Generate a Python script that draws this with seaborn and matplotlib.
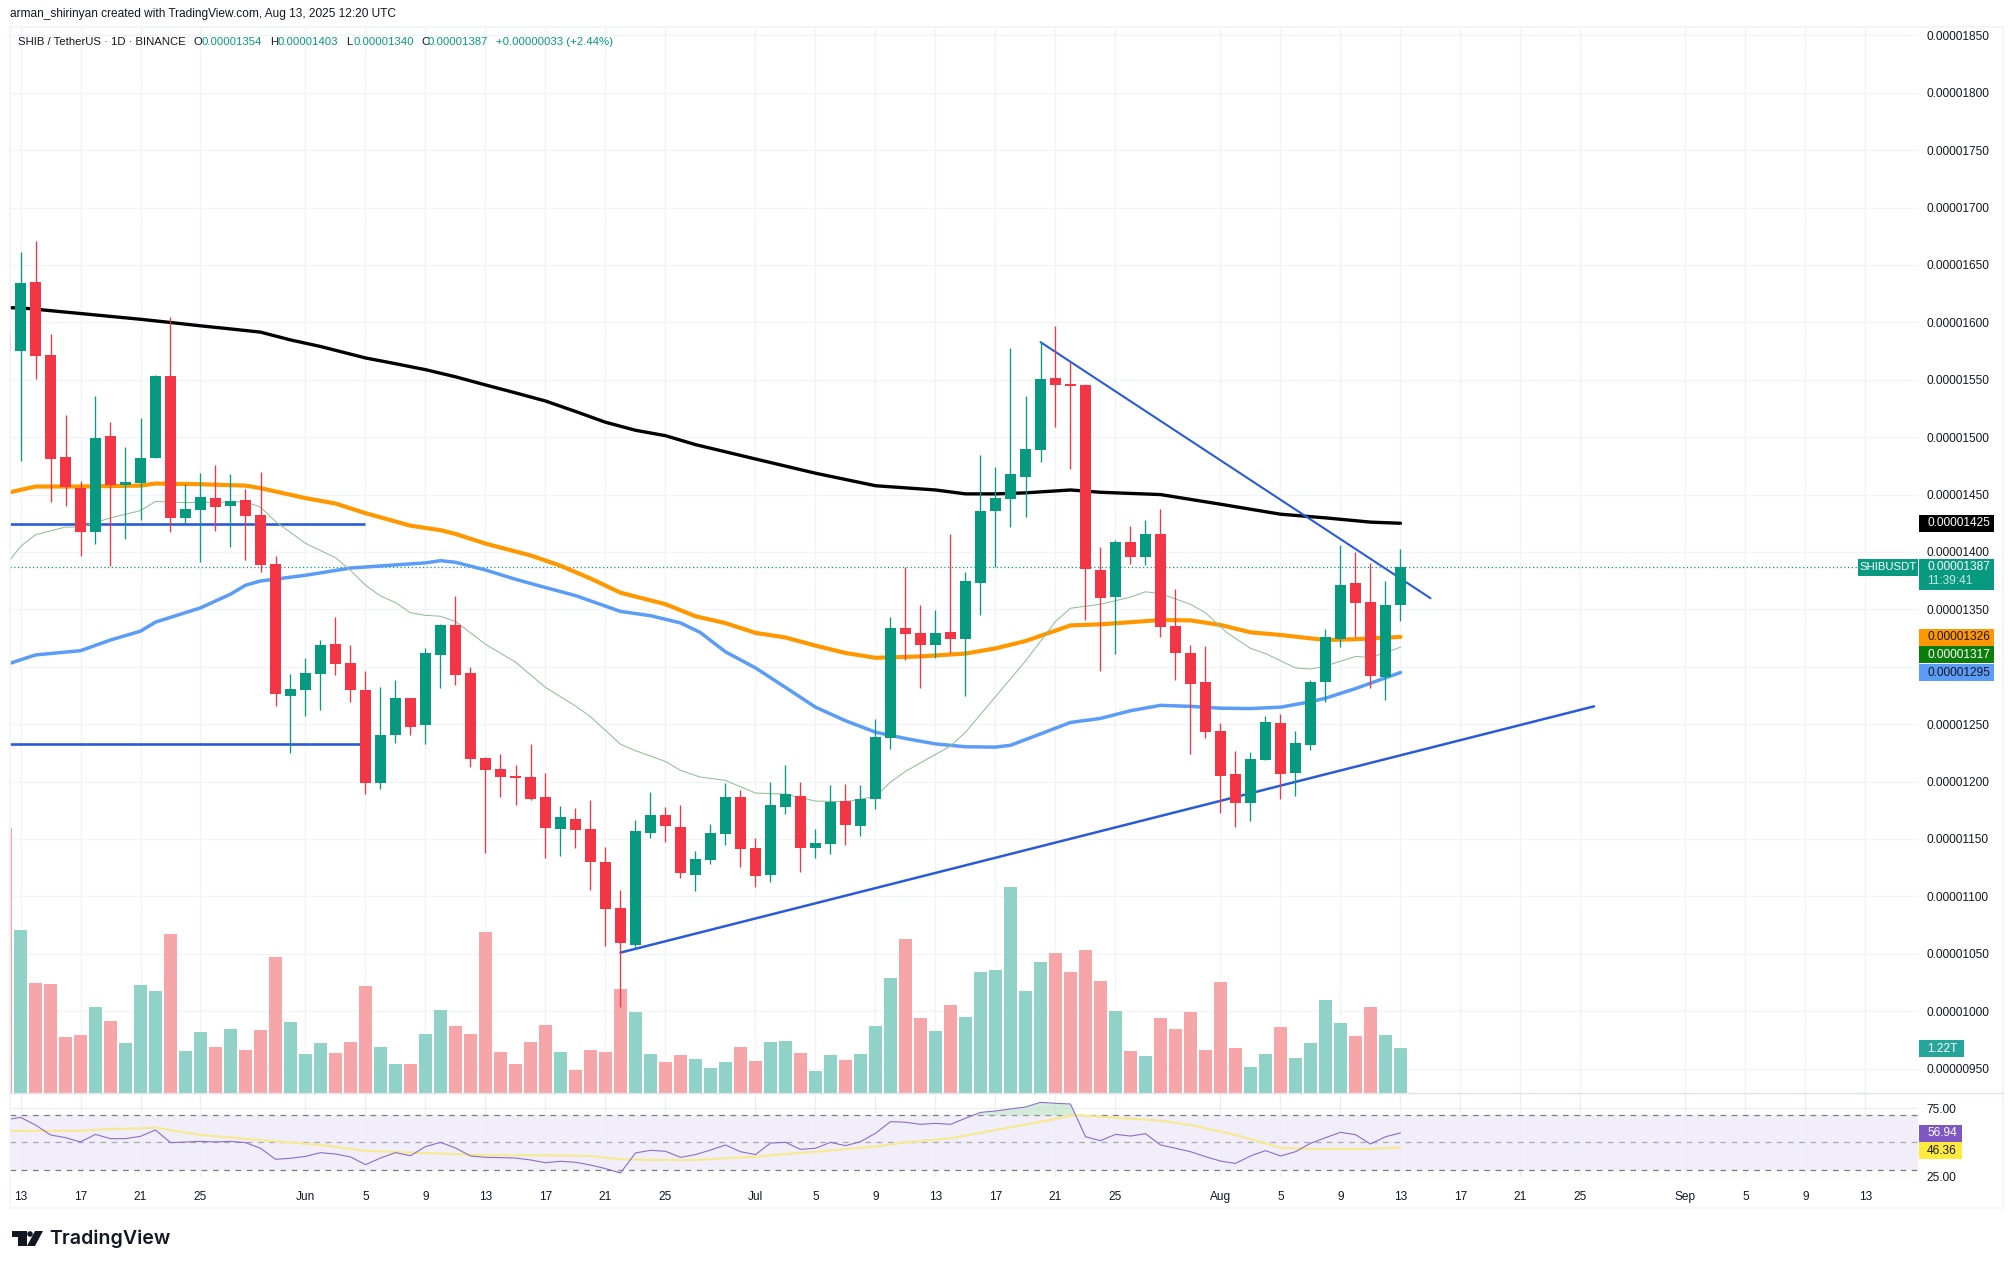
import matplotlib
matplotlib.use("Agg")
import matplotlib.pyplot as plt
from matplotlib.patches import Rectangle, Polygon, Circle
import numpy as np
import pandas as pd
import seaborn as sns

# ---- data (prices in units of 1e-8) ----
days = list(range(-1, 93))
opens = [1590,1575,1635,1571.6,1482.6,1456,1417.3,1501,1458,1460,1482,1553,1429.7,1436.9,1447,1440,1445,1432,1389.6,
         1274.5,1279.8,1293.8,1319.9,1303.4,1279.8,1198.9,1240.6,1273,1249.3,1310.3,1336.4,1294.7,1220.6,1211,1204.8,
         1203.8,1186.4,1159,1167.5,1158.7,1129.8,1090,1057.9,1155.3,1171.1,1160.4,1118.6,1131.7,1154.3,1186.9,1142.2,
         1118.6,1177.9,1187.5,1142.2,1145.6,1183,1161.3,1184.9,1238,1333.9,1329.5,1319,1330,1324.3,1373.1,1435.7,1446.2,
         1465.2,1488.9,1551.7,1546.1,1545.5,1384.3,1360.7,1408.6,1395.5,1415.7,1335.5,1312,1286.6,1244,1206.7,1181.5,
         1218.8,1251.1,1207.6,1231.9,1286.6,1324.3,1373.1,1356.3,1291.3,1354]
highs = [1590,1661,1671,1590,1519.4,1461.8,1536,1513,1491,1516.9,1554,1604.6,1459,1468.6,1475.8,1467.7,1454.6,1469.6,
         1396.5,1293.8,1307.8,1323.3,1343.2,1319,1296.3,1282.3,1288.5,1273,1316.5,1337.3,1361.6,1299.7,1221.3,1223.7,
         1214.4,1232.8,1207.3,1178.7,1177,1183.9,1143,1105.5,1166.2,1191,1178,1179.6,1139.3,1163.1,1199,1192.7,1150.9,
         1199.4,1214.5,1199.6,1158.7,1197,1198,1197,1254.3,1343.3,1386.8,1353.5,1349.5,1415.7,1382.4,1484.5,1474,1577.9,
         1536.2,1582.8,1596.8,1565.4,1546,1404.2,1410.5,1422.6,1427.9,1437.2,1367.5,1319,1318,1250.8,1226.5,1225.6,1257,
         1258.6,1244,1288.9,1332.7,1406,1399.9,1390.8,1374.6,1403]
lows = [1574,1479,1551,1443.7,1440,1396.8,1407.3,1388,1411.7,1428,1482,1417,1425,1391,1418,1404,1393,1382.5,1265.8,
        1225.3,1257.4,1262.7,1292.8,1268.9,1189.5,1193.6,1233.7,1240.6,1232.8,1281.7,1284.1,1212.3,1138.2,1186.4,1179.6,
        1184.2,1133.8,1135.4,1142.3,1105.5,1056.7,1003.8,1055.7,1151,1147,1116.1,1105,1128.2,1144.8,1125.3,1108.2,1112.5,
        1171.8,1121.2,1133.5,1136.9,1144.8,1152.6,1176,1228.7,1305.9,1281.6,1307.8,1312,1274.8,1345,1386.8,1421.7,1430.7,
        1478.6,1509,1472.7,1341,1296.5,1311.5,1389.6,1388.7,1326,1288.8,1224.4,1238.3,1172.7,1160,1165.9,1218.8,1185,
        1187.7,1227.5,1269.5,1316.8,1325.5,1281.6,1271,1340]
closes = [1574,1634.5,1571,1481.4,1456.2,1417,1499.4,1458.7,1461,1482,1553.6,1429.7,1437.5,1447.8,1439,1444,1431,1389,
          1276.6,1280.7,1294.7,1319,1302.5,1279.8,1198.9,1240.6,1273,1247.5,1312,1336.4,1292.8,1220,1210,1203.8,1203.2,
          1185.2,1159.9,1169,1158.1,1129.5,1089.4,1059.8,1156.9,1171.1,1161.7,1120.5,1132.6,1155.2,1186.9,1141.3,1117.8,
          1179.6,1189.5,1142.2,1146.5,1182.5,1162.2,1184.8,1238.7,1333.9,1328.6,1319,1329.5,1324.3,1374.6,1435.7,1447,1468,
          1489.8,1550.8,1545.5,1544.5,1385.5,1360,1408.6,1395.5,1415.7,1334.5,1312,1285,1243,1204.8,1181.5,1219.7,1251.8,
          1206.7,1233.7,1286.6,1325.8,1371.3,1355.7,1291.9,1353.8,1387]
volume_t = [7.19,4.43,2.98,2.96,1.51,1.57,2.32,1.95,1.36,2.92,2.76,4.31,1.13,1.65,1.24,1.73,1.16,1.70,3.68,1.92,1.06,1.36,
            1.08,1.37,2.89,1.24,0.79,0.79,1.60,2.25,1.81,1.60,4.37,1.10,0.79,1.37,1.84,1.10,0.62,1.16,1.10,2.82,2.19,1.06,
            0.83,1.03,0.91,0.68,0.85,1.25,0.88,1.39,1.42,1.09,0.60,1.03,0.90,1.07,1.82,3.13,4.17,2.04,1.67,2.39,2.07,3.29,
            3.34,5.58,2.76,3.56,3.80,3.29,3.88,3.04,2.23,1.15,1.01,2.04,1.74,2.20,1.17,3.02,1.23,0.70,1.07,1.80,0.96,1.36,
            2.53,1.90,1.55,2.34,1.58,1.22]

black_d = [-0.7,0,4,8,10,12,14,16,18,20,23,25,27,29,31,33,35,37,39,41,43,45,49,53,57,61,63,65,67,70,72,76,80,84,87,90,92]
black_v = [1612.7,1612.7,1607.7,1602.7,1599.9,1597,1594.3,1591.5,1584.7,1579,1569,1564,1558.8,1552.6,1545.5,1538.6,1531.5,
           1522.4,1513,1506,1501.3,1493.5,1481,1468.6,1457.7,1454,1450.6,1450.6,1451.5,1454,1452,1450,1441.6,1432.9,1429.7,
           1426,1425]
orange_d = [-0.7,1,4,8,9,12,15,16,19,21,23,26,28,29,31,34,36,38,40,43,45,47,49,51,53,55,57,60,63,65,67,70,72,74,76,78,80,82,84,87,89,92]
orange_v = [1452,1457,1457,1457.8,1459.6,1459,1457.8,1455.6,1446.9,1442.2,1433.8,1422.9,1419,1415.7,1407.3,1397,1388,1376.9,
            1364.5,1354.5,1344,1338,1329.5,1325.5,1318.4,1312,1307.8,1309,1311.5,1316,1322.4,1336,1337,1338.8,1340.7,1340.4,
            1336.4,1330,1327.7,1323.3,1324,1326]
blue_d = [-0.7,1,4,6,8,9,12,14,15,16,19,22,25,27,28,29,31,33,35,37,40,42,44,45.3,47,49,51,53,55,57,59,61,63,65,66,68,70,72,74,76,78,80,82,84,86,87,89,92]
blue_v = [1303,1310.3,1314,1323.3,1331,1338.9,1351.3,1363.2,1371,1374.7,1379.7,1386,1388.7,1390.5,1392.4,1391,1384.3,1376.2,
          1369,1362,1348.2,1344.5,1338.2,1330,1313,1299,1282,1264.8,1253,1243,1237.5,1232.8,1230.3,1230,1231.6,1241.5,1251.5,
          1255,1261.7,1266.4,1265.5,1263.9,1263.6,1264.8,1269.5,1272.6,1281,1295]
green_d = [-0.7,0,1,3,4,6,8,9,11,15,16,17,19,21,22,23,24,25,26,27,28,29,31,33,35,37,38,40,41,43,44,45.3,47,49,51,53,55,57,58,59,
           62,63,65,67,69,70,72,74,75,76,78,79,80.4,82,83,85,86,87,89,90,92]
green_v = [1393,1404.8,1415,1421.7,1421.7,1429.7,1436,1444,1443,1443.7,1439,1426.6,1407.5,1395,1384,1371,1361.6,1356,1347,
           1344.8,1344,1339.5,1319.6,1304,1282,1265.8,1256.5,1232.5,1226.9,1217.5,1209.7,1204,1201,1190,1189,1183,1182.4,
           1187,1199.5,1208.9,1231,1243,1274,1305,1339.5,1351,1354.4,1360.7,1365.3,1363.8,1354.4,1347,1330,1316,1311.5,1299,
           1298,1300.6,1309,1308,1317]

rsi_days = list(range(-1, 93))
rsi_vals = [66.4,68.3,62.7,55.5,53.5,50.4,55.9,52.8,52.8,54.5,59.1,49.9,50.3,50.8,50.4,50.8,49.9,45.8,37.8,38.5,39.9,42.6,41.6,
            39.5,33.9,38.7,42.6,40.4,47,50.1,46,40.2,39.2,39,38.7,37.3,35.3,36.3,35.6,33.6,31,27.8,42.4,44.3,43.6,39.2,41.2,
            44.5,48.2,43.3,41.2,49.6,50.1,45,45.8,50.1,47.7,50.6,56.7,65.2,64.7,63.2,63.9,63.2,67.6,71.9,72.9,74.4,75.8,79.2,
            78.5,78,54.2,51.3,55.9,54.7,56.4,48.2,45.8,43.3,39.7,36.5,34.8,40.2,44.1,40.2,43.3,49.4,53.5,57.4,55.7,48.9,54.2,56.94]
rsima_d = [-0.7,4,6,8,9,12,16,20,23,26,29,31,35,38,40,42,45,49,53,57,59,62,65,69,70.2,73,76,78,81,84,86,90,92]
rsima_v = [58.4,58.6,59.8,60.3,60.8,55.5,51.8,48.2,44,42.6,41.6,40.7,40.7,40.2,37.8,37.3,37.3,39.7,43.3,47,50.1,53,59.1,67.1,70,
           68,65.9,62.7,55.5,46.2,45.3,45.3,46.36]

level_upper = 1424.4
level_lower = 1233
rising_d = [40, 104.9]
rising_v = [1051, 1265.5]
falling_d = [68, 94]
falling_v = [1582.8, 1359.7]

price_ticks = list(range(950, 1851, 50))
hidden_tick = 1300  # its label sits under the 0.00001295 tag in the reference
date_days = [0,4,8,12,19,23,27,31,35,39,43,49,53,57,61,65,69,73,80,84,88,92,96,100,104,111,115,119,123]
date_labels = ["13","17","21","25","Jun","5","9","13","17","21","25","Jul","5","9","13","17","21","25","Aug","5","9","13",
               "17","21","25","Sep","5","9","13"]

GREEN, RED = "#089981", "#f23645"
W, H = 2014, 1269
FONT = ["Liberation Sans", "DejaVu Sans"]
sns.set_theme(style="white")
plt.rcParams["font.family"] = FONT
plt.rcParams["axes.unicode_minus"] = False

df = pd.DataFrame({"day": days, "o": opens, "h": highs, "l": lows, "c": closes, "vol": volume_t})
df["dir"] = np.where(df.c >= df.o, "up", "down")

fig = plt.figure(figsize=(W / 100, H / 100), dpi=100, facecolor="white")

def rect(l, t, r, b):
    return [l / W, 1 - b / H, (r - l) / W, (b - t) / H]

X0, X1 = -0.7, 126.5
YLIM = (928.7, 1857.3)
main_rect = rect(10, 27, 1918, 1093)

base = fig.add_axes(main_rect, zorder=0)
vol = fig.add_axes(main_rect, zorder=1)
ax = fig.add_axes(main_rect, zorder=2)
rsi = fig.add_axes(rect(10, 1093, 1918, 1177), zorder=1)
ov = fig.add_axes([0, 0, 1, 1], zorder=5)

# base: grid + price axis
base.set_xlim(X0, X1); base.set_ylim(*YLIM)
base.set_xticks(date_days); base.set_xticklabels([])
base.set_yticks(price_ticks)
base.set_yticklabels(["" if p == hidden_tick else f"{p/1e8:.8f}" for p in price_ticks])
base.yaxis.tick_right()
base.tick_params(axis="y", length=0, pad=6, labelsize=8.6, labelcolor="#131722")
base.tick_params(axis="x", length=0)
base.grid(True, color="#f0f3fa", lw=0.9)
for s in base.spines.values():
    s.set_visible(False)

# volume
sns.barplot(data=df, x="day", y="vol", hue="dir", hue_order=["up", "down"],
            palette={"up": "#91d2c8", "down": "#f6a6a9"}, native_scale=True, dodge=False,
            width=0.92, saturation=1, legend=False, ax=vol, linewidth=0)
vol.set_xlim(X0, X1); vol.set_ylim(0, (1093 - 27) / 36.9)
vol.axis("off"); vol.patch.set_visible(False)

# overlays on the price pane
ax.patch.set_visible(False)
ax.axhline(closes[-1], xmin=0, xmax=(1858 - 10) / 1908, color=GREEN, lw=0.9, ls=(0, (1, 2)), zorder=1)
ax.hlines(level_upper, X0, 23, color="#2a5bd7", lw=1.9, zorder=2)
ax.hlines(level_lower, X0, 22.6, color="#2a5bd7", lw=1.9, zorder=2)
sns.lineplot(x=black_d, y=black_v, color="#000000", lw=2.4, errorbar=None, ax=ax, zorder=3)
sns.lineplot(x=orange_d, y=orange_v, color="#ff9800", lw=3.0, errorbar=None, ax=ax, zorder=3)
sns.lineplot(x=blue_d, y=blue_v, color="#5b9cf6", lw=2.5, errorbar=None, ax=ax, zorder=3)
sns.lineplot(x=green_d, y=green_v, color="#8fbf96", lw=0.75, errorbar=None, ax=ax, zorder=3)
sns.lineplot(x=rising_d, y=rising_v, color="#2a5bd7", lw=1.8, errorbar=None, ax=ax, zorder=4)
sns.lineplot(x=falling_d, y=falling_v, color="#2a5bd7", lw=1.5, errorbar=None, ax=ax, zorder=4)

# candles
colors = [GREEN if d == "up" else RED for d in df.dir]
ax.vlines(df.day, df.l, df.h, colors=colors, lw=0.95, zorder=5)
ax.bar(df.day, (df.c - df.o).abs().clip(lower=1.2), bottom=df[["o", "c"]].min(axis=1), width=0.74, color=colors,
       linewidth=0, zorder=6)
ax.set_xlim(X0, X1); ax.set_ylim(*YLIM)
ax.axis("off")

# RSI pane
rsi.set_xlim(X0, X1)
RY = (24.9, 86)
rsi.set_ylim(*RY)
rsi.set_xticks(date_days); rsi.set_xticklabels(date_labels)
rsi.set_yticks([25, 75]); rsi.set_yticklabels(["25.00", "75.00"])
rsi.yaxis.tick_right()
rsi.tick_params(axis="y", length=0, pad=6, labelsize=8.6, labelcolor="#131722")
rsi.tick_params(axis="x", length=0, pad=10, labelsize=8.6, labelcolor="#131722")
rsi.grid(True, color="#eceef3", lw=0.9)
for s in rsi.spines.values():
    s.set_visible(False)
rsi.axhspan(30, 70, color="#f1edf9", lw=0, zorder=0.5)
for lev, a in [(70, 1.0), (50, 0.6), (30, 1.0)]:
    rsi.axhline(lev, color="#787b86", lw=0.9, ls=(0, (4.5, 4.5)), alpha=a, zorder=1)
r_d, r_v = np.array(rsi_days), np.array(rsi_vals)
rsi.fill_between(r_d, 70, r_v, where=r_v >= 70, color="#b9e0c4", alpha=0.6, lw=0, interpolate=True, zorder=1.2)
rsi.fill_between(r_d, 30, r_v, where=r_v <= 30, color="#f7c6c9", alpha=0.6, lw=0, interpolate=True, zorder=1.2)
sns.lineplot(x=rsima_d, y=rsima_v, color="#f7e98e", lw=1.5, errorbar=None, ax=rsi, zorder=2)
sns.lineplot(x=rsi_days, y=rsi_vals, color="#8a6fc8", lw=0.8, errorbar=None, ax=rsi, zorder=3)
rsi.set_xlim(X0, X1); rsi.set_ylim(*RY)

# pixel overlay: frame, headers, value tags, logo
ov.set_xlim(0, W); ov.set_ylim(H, 0); ov.axis("off"); ov.patch.set_visible(False)
ov.add_patch(Rectangle((10, 27), 1993, 1181, fill=False, ec="#f0f3fa", lw=1.2))
ov.plot([10, 2003], [1093, 1093], color="#e0e3eb", lw=1)

ov.text(10, 14.5, "arman_shirinyan created with TradingView.com, Aug 13, 2025 12:20 UTC", fontsize=8.6,
        color="#131722", va="center")
ov.text(18, 42, "SHIB / TetherUS · 1D · BINANCE", fontsize=8.2, color="#131722", va="center")
hdr = [(194, "O", "#131722"), (202, "0.00001354", GREEN), (270, "H", "#131722"), (278, "0.00001403", GREEN),
       (346, "L", "#131722"), (353, "0.00001340", GREEN), (421, "C", "#131722"), (428, "0.00001387", GREEN),
       (496, "+0.00000033 (+2.44%)", GREEN)]
for x, s, c in hdr:
    ov.text(x, 42, s, fontsize=8.2, color=c, va="center")

def tag(x0, x1, y0, y1, fc, text, tc="white", fw="normal"):
    ov.add_patch(Rectangle((x0, y0), x1 - x0, y1 - y0, fc=fc, ec="none", zorder=3))
    ov.text(x0 + 8, (y0 + y1) / 2, text, fontsize=8.6, color=tc, va="center", ha="left", fontweight=fw, zorder=4)

tag(1919, 1994, 515, 532, "#000000", "0.00001425")
ov.add_patch(Rectangle((1919, 559), 75, 31, fc=GREEN, ec="none", zorder=3))
ov.text(1927, 567.5, "0.00001387", fontsize=8.6, color="white", va="center", zorder=4)
ov.text(1927, 581, "11:39:41", fontsize=8.6, color="#c8e8e2", va="center", zorder=4)
ov.add_patch(Rectangle((1858, 559), 60, 17, fc=GREEN, ec="none", zorder=3))
ov.text(1888, 567.5, "SHIBUSDT", fontsize=8.2, color="white", va="center", ha="center", zorder=4)
tag(1919, 1994, 629, 646, "#ff9800", "0.00001326", "#131722")
tag(1919, 1994, 646, 663, "#0a7d0a", "0.00001317")
tag(1919, 1994, 664, 681, "#5b9cf6", "0.00001295", "#131722")
tag(1919, 1964, 1040, 1057, "#26a69a", "1.22T")
tag(1919, 1962, 1125, 1142, "#7e57c2", "56.94")
tag(1919, 1962, 1142, 1159, "#ffeb3b", "46.36", "#131722")

# logo
ov.add_patch(Polygon([(12, 1231), (27, 1231), (27, 1246), (18, 1246), (18, 1237), (12, 1237)], fc="#131722", ec="none"))
ov.add_patch(Circle((30, 1234), 2.8, fc="#131722", ec="none"))
ov.add_patch(Polygon([(35, 1231), (43, 1231), (35, 1246), (27, 1246)], fc="#131722", ec="none"))
ov.text(49, 1239, "TradingView", fontsize=14.1, color="#131722", va="center", family=["Inter", "DejaVu Sans"],
        fontweight="semibold")

fig.savefig("out.png", dpi=100, facecolor="white")
